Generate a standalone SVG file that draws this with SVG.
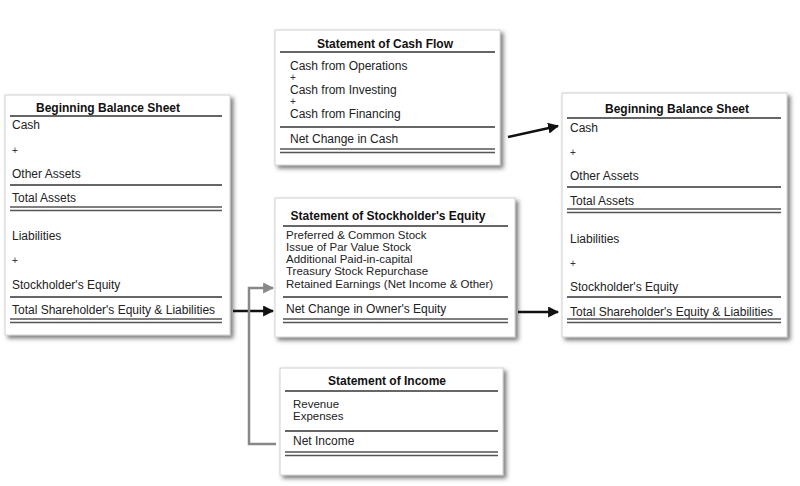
<svg xmlns="http://www.w3.org/2000/svg" width="800" height="486" viewBox="0 0 800 486">
<defs>
<filter id="sh" x="-5%" y="-5%" width="115%" height="115%">
<feDropShadow dx="3" dy="3" stdDeviation="2" flood-color="#444" flood-opacity="0.7"/>
</filter>
<marker id="ab" viewBox="0 0 10 10" refX="9" refY="5" markerWidth="4.4" markerHeight="4.4" orient="auto" markerUnits="strokeWidth">
<path d="M0,0 L10,5 L0,10 z" fill="#111"/>
</marker>
<marker id="ag" viewBox="0 0 10 10" refX="9" refY="5" markerWidth="4.4" markerHeight="4.4" orient="auto" markerUnits="strokeWidth">
<path d="M0,0 L10,5 L0,10 z" fill="#888"/>
</marker>
</defs>
<style>
.box{fill:#fff;stroke:#d0d0d0;stroke-width:1;filter:url(#sh)}
text{font-family:"Liberation Sans",Arial,sans-serif;font-size:12px;fill:#222}
.t{font-weight:bold;text-anchor:middle;fill:#111}
.p{font-size:10px;fill:#333}
.s{font-size:11.5px}
.l{stroke:#333;stroke-width:1.6}
.d{stroke:#555;stroke-width:1.5}
.cb{stroke:#111;stroke-width:2.5;fill:none}
.cg{stroke:#888;stroke-width:2.5;fill:none}
</style>
<rect width="800" height="486" fill="#fff"/>

<g id="begin-balance">
<rect class="box" x="5" y="95" width="225" height="240"/>
<text class="t" x="108" y="112">Beginning Balance Sheet</text>
<line class="l" x1="10" y1="116" x2="222" y2="116"/>
<text x="12" y="129">Cash</text>
<text x="12" y="154" class="p">+</text>
<text x="12" y="178">Other Assets</text>
<line class="l" x1="10" y1="185" x2="222" y2="185"/>
<text x="12" y="202">Total Assets</text>
<line class="d" x1="10" y1="207" x2="222" y2="207"/>
<line class="d" x1="10" y1="210.5" x2="222" y2="210.5"/>
<text x="12" y="240">Liabilities</text>
<text x="12" y="264" class="p">+</text>
<text x="12" y="289">Stockholder's Equity</text>
<line class="l" x1="10" y1="297" x2="222" y2="297"/>
<text x="12" y="314">Total Shareholder's Equity &amp; Liabilities</text>
<line class="d" x1="10" y1="319" x2="222" y2="319"/>
<line class="d" x1="10" y1="322.5" x2="222" y2="322.5"/>
</g>

<g id="cash-flow">
<rect class="box" x="275" y="30" width="225" height="135"/>
<text class="t" x="385" y="48">Statement of Cash Flow</text>
<line class="l" x1="280" y1="52" x2="495" y2="52"/>
<text x="290" y="70">Cash from Operations</text>
<text x="290" y="81" class="p">+</text>
<text x="290" y="94">Cash from Investing</text>
<text x="290" y="105" class="p">+</text>
<text x="290" y="118">Cash from Financing</text>
<line class="l" x1="280" y1="127" x2="495" y2="127"/>
<text x="290" y="143">Net Change in Cash</text>
<line class="d" x1="280" y1="149" x2="495" y2="149"/>
<line class="d" x1="280" y1="152.5" x2="495" y2="152.5"/>
</g>

<g id="stockholders-equity">
<rect class="box" x="275" y="198" width="240" height="139"/>
<text class="t" x="388" y="220">Statement of Stockholder's Equity</text>
<line class="l" x1="283" y1="226" x2="508" y2="226"/>
<text x="286" y="239" class="s">Preferred &amp; Common Stock</text>
<text x="286" y="251" class="s">Issue of Par Value Stock</text>
<text x="286" y="263" class="s">Additional Paid-in-capital</text>
<text x="286" y="275" class="s">Treasury Stock Repurchase</text>
<text x="286" y="288" class="s">Retained Earnings (Net Income &amp; Other)</text>
<line class="l" x1="283" y1="297" x2="508" y2="297"/>
<text x="286" y="313">Net Change in Owner's Equity</text>
<line class="d" x1="283" y1="319" x2="508" y2="319"/>
<line class="d" x1="283" y1="322.5" x2="508" y2="322.5"/>
</g>

<g id="income">
<rect class="box" x="280" y="368" width="223" height="107"/>
<text class="t" x="387" y="385">Statement of Income</text>
<line class="l" x1="285" y1="391" x2="498" y2="391"/>
<text x="293" y="408" class="s">Revenue</text>
<text x="293" y="420" class="s">Expenses</text>
<line class="l" x1="285" y1="431" x2="498" y2="431"/>
<text x="293" y="445">Net Income</text>
<line class="d" x1="285" y1="452" x2="498" y2="452"/>
<line class="d" x1="285" y1="455.5" x2="498" y2="455.5"/>
</g>

<g id="end-balance">
<rect class="box" x="562" y="93" width="225" height="244"/>
<text class="t" x="677" y="113">Beginning Balance Sheet</text>
<line class="l" x1="567" y1="118" x2="781" y2="118"/>
<text x="570" y="132">Cash</text>
<text x="570" y="156" class="p">+</text>
<text x="570" y="180">Other Assets</text>
<line class="l" x1="567" y1="187" x2="781" y2="187"/>
<text x="570" y="205">Total Assets</text>
<line class="d" x1="567" y1="209" x2="781" y2="209"/>
<line class="d" x1="567" y1="212.5" x2="781" y2="212.5"/>
<text x="570" y="243">Liabilities</text>
<text x="570" y="267" class="p">+</text>
<text x="570" y="291">Stockholder's Equity</text>
<line class="l" x1="567" y1="297" x2="781" y2="297"/>
<text x="570" y="316">Total Shareholder's Equity &amp; Liabilities</text>
<line class="d" x1="567" y1="319" x2="781" y2="319"/>
<line class="d" x1="567" y1="322.5" x2="781" y2="322.5"/>
</g>

<g id="connectors">
<line class="cb" x1="508" y1="137" x2="558" y2="126" marker-end="url(#ab)"/>
<line class="cb" x1="233" y1="311" x2="273" y2="311" marker-end="url(#ab)"/>
<line class="cb" x1="518" y1="312" x2="558" y2="312" marker-end="url(#ab)"/>
<polyline class="cg" points="276,444 249,444 249,288 273,288" marker-end="url(#ag)"/>
</g>
</svg>
